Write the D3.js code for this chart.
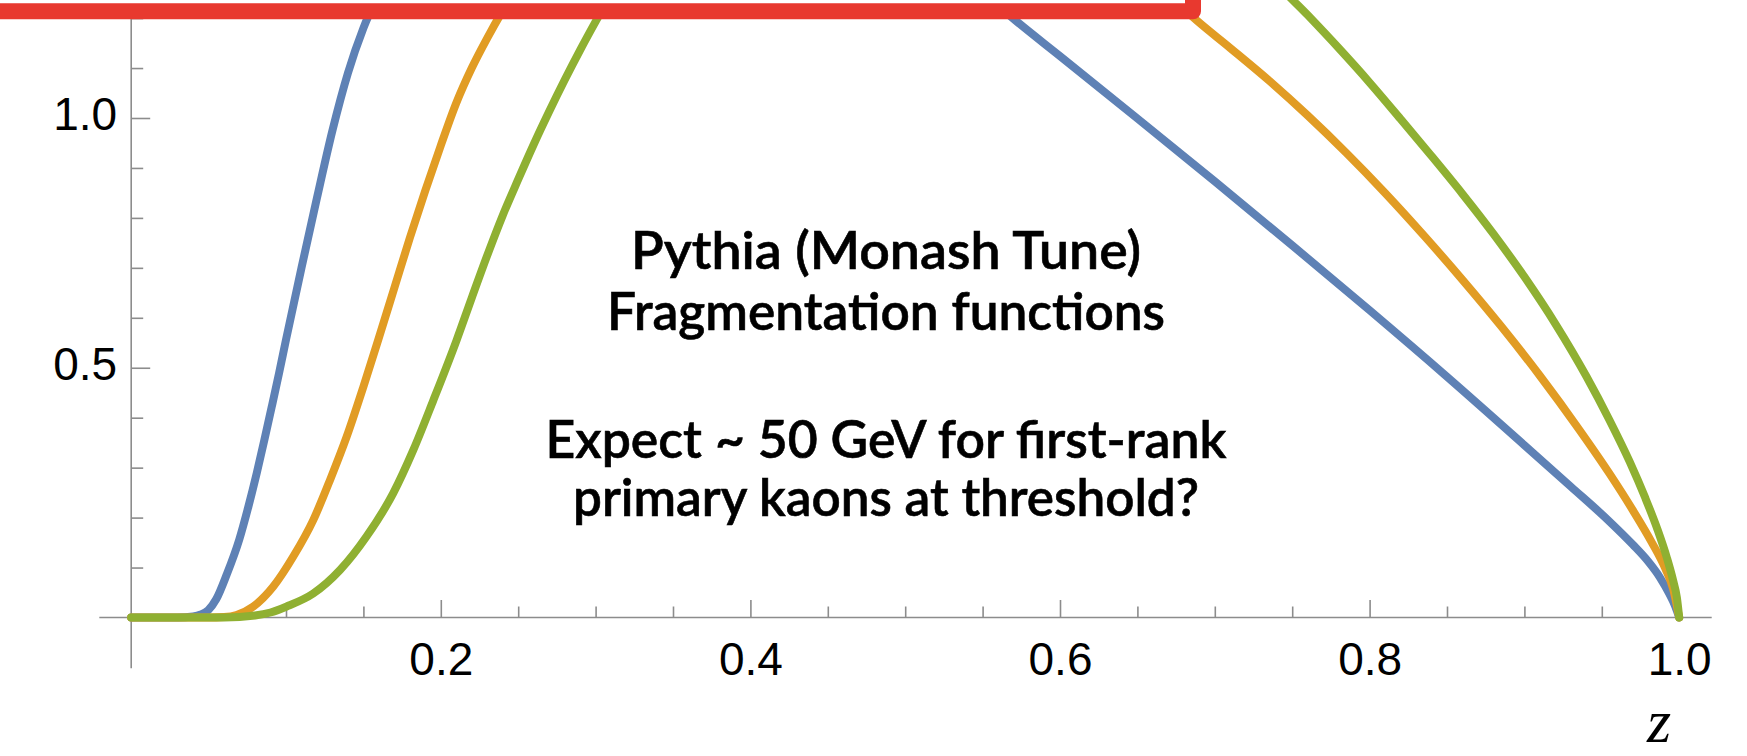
<!DOCTYPE html>
<html><head><meta charset="utf-8">
<script src="https://cdn.jsdelivr.net/npm/d3@7"></script>
<style>html,body{margin:0;padding:0;background:#fff;overflow:hidden}</style>
</head><body>
<svg id="chart" width="1747" height="756"></svg>
<script>
// ---- data (z, value); values above ~1.24 are hidden under the frame ----
const curveAz = [0, 0.03, 0.04, 0.045, 0.0498, 0.055, 0.0617, 0.0698, 0.0757, 0.0811, 0.086, 0.0908, 0.0955, 0.1, 0.11, 0.12, 0.13, 0.14, 0.15, 0.16, 0.17,
  0.2, 0.25, 0.3, 0.35, 0.4, 0.45, 0.5, 0.54,
  0.571, 0.60, 0.65, 0.70, 0.75, 0.80, 0.85, 0.90, 0.93, 0.954, 0.970, 0.98, 0.9876, 0.9935, 0.9975, 1.0];
const curveAv = [0, 0, 0.002, 0.006, 0.015, 0.037, 0.086, 0.156, 0.222, 0.289, 0.355, 0.422, 0.489, 0.556, 0.70, 0.84, 0.975, 1.09, 1.18, 1.25, 1.31,
  1.48, 1.70, 1.80, 1.78, 1.68, 1.55, 1.40, 1.28,
  1.196, 1.124, 0.999, 0.873, 0.745, 0.615, 0.482, 0.345, 0.262, 0.195, 0.146, 0.112, 0.08, 0.048, 0.022, 0];

const curveBz = [0, 0.05, 0.06, 0.068, 0.0789, 0.0918, 0.1047, 0.1176, 0.1284, 0.1392, 0.150, 0.1596, 0.17, 0.18, 0.19, 0.20, 0.21, 0.22, 0.23, 0.24, 0.25, 0.27,
  0.33, 0.4, 0.47, 0.54, 0.6, 0.65,
  0.688, 0.71, 0.735, 0.76, 0.785, 0.81, 0.835, 0.86, 0.885, 0.91, 0.935, 0.955, 0.97, 0.982, 0.991, 0.996, 1.0];
const curveBv = [0, 0, 0.001, 0.005, 0.022, 0.062, 0.122, 0.195, 0.275, 0.362, 0.462, 0.556, 0.66, 0.76, 0.855, 0.945, 1.03, 1.10, 1.16, 1.215, 1.265, 1.35,
  1.58, 1.74, 1.78, 1.68, 1.50, 1.31,
  1.196, 1.140, 1.075, 1.005, 0.930, 0.850, 0.765, 0.676, 0.583, 0.484, 0.378, 0.288, 0.215, 0.152, 0.098, 0.058, 0];

const curveCz = [0, 0.06, 0.08, 0.09, 0.1004, 0.1176, 0.1349, 0.152, 0.1693, 0.1822, 0.1952, 0.2103, 0.22, 0.23, 0.24, 0.25, 0.26, 0.27, 0.28, 0.29, 0.30, 0.32, 0.35,
  0.42, 0.5, 0.58, 0.65, 0.70,
  0.74, 0.76, 0.78, 0.80, 0.82, 0.84, 0.86, 0.88, 0.90, 0.92, 0.94, 0.955, 0.968, 0.978, 0.986, 0.992, 0.996, 0.9985, 1.0];
const curveCv = [0, 0, 0.004, 0.01, 0.022, 0.048, 0.095, 0.162, 0.249, 0.335, 0.435, 0.556, 0.64, 0.725, 0.805, 0.877, 0.947, 1.013, 1.076, 1.136, 1.193, 1.30, 1.44,
  1.68, 1.84, 1.84, 1.66, 1.45,
  1.27, 1.206, 1.140, 1.071, 0.998, 0.924, 0.848, 0.768, 0.682, 0.588, 0.483, 0.395, 0.312, 0.24, 0.176, 0.12, 0.075, 0.04, 0];

const seriesColors = ["#5e81b5", "#e19c24", "#8fb032"];

const xMajorTicks = [0.2, 0.4, 0.6, 0.8, 1.0];
const xTickLabels = ["0.2", "0.4", "0.6", "0.8", "1.0"];
const xMinorTicks = [0.05, 0.1, 0.15, 0.25, 0.3, 0.35, 0.45, 0.5, 0.55, 0.65, 0.7, 0.75, 0.85, 0.9, 0.95];
const yMajorTicks = [0.5, 1.0];
const yTickLabels = ["0.5", "1.0"];
const yMinorTicks = [0.1, 0.2, 0.3, 0.4, 0.6, 0.7, 0.8, 0.9, 1.1, 1.2];
const axisExtentX = [-0.0206, 1.021];
const axisExtentY = [-0.1017, 1.3];
const xAxisTitle = "z";
const noteLines = ["Pythia (Monash Tune)", "Fragmentation functions", "Expect ~ 50 GeV for first-rank", "primary kaons at threshold?"];

// ---- drawing ----
const svg = d3.select("#chart");
svg.append("rect").attr("width", 1747).attr("height", 756).attr("fill", "#fff");

const x = d3.scaleLinear().domain([0, 1]).range([131.2, 1679.2]);
const y = d3.scaleLinear().domain([0, 1]).range([617.5, 118]);

const axisColor = "#8c8c8c";
const g = svg.append("g");

// axis lines
g.append("line").attr("x1", x(axisExtentX[0])).attr("x2", x(axisExtentX[1]))
  .attr("y1", y(0)).attr("y2", y(0)).attr("stroke", axisColor).attr("stroke-width", 1.6);
g.append("line").attr("x1", x(0)).attr("x2", x(0))
  .attr("y1", y(axisExtentY[0])).attr("y2", y(axisExtentY[1])).attr("stroke", axisColor).attr("stroke-width", 1.6);

function styleAxis(sel) {
  sel.select(".domain").remove();
  sel.selectAll(".tick line").attr("stroke", axisColor).attr("stroke-width", 1.6);
  sel.selectAll(".tick text").attr("fill", "#000")
    .style("font-family", "'Liberation Sans', Arial, Helvetica, sans-serif").style("font-size", "46px");
}

// x axis
const xMinor = g.append("g").attr("transform", `translate(0,${y(0)})`)
  .call(d3.axisBottom(x).tickValues(xMinorTicks).tickSize(-11).tickFormat(""));
styleAxis(xMinor);
const xMajor = g.append("g").attr("transform", `translate(0,${y(0)})`)
  .call(d3.axisBottom(x).tickValues(xMajorTicks).tickSize(-17.5).tickPadding(25)
    .tickFormat((d, i) => xTickLabels[i]));
styleAxis(xMajor);

// y axis
const yMinor = g.append("g").attr("transform", `translate(${x(0)},0)`)
  .call(d3.axisLeft(y).tickValues(yMinorTicks).tickSize(-12).tickFormat(""));
styleAxis(yMinor);
const yMajor = g.append("g").attr("transform", `translate(${x(0)},0)`)
  .call(d3.axisLeft(y).tickValues(yMajorTicks).tickSize(-19).tickPadding(14)
    .tickFormat((d, i) => yTickLabels[i]));
styleAxis(yMajor);
yMajor.selectAll(".tick text").attr("dy", "0.26em");

// curves
const line = d3.line().x(d => x(d[0])).y(d => y(d[1])).curve(d3.curveMonotoneX);
const allSeries = [d3.zip(curveAz, curveAv), d3.zip(curveBz, curveBv), d3.zip(curveCz, curveCv)];
allSeries.forEach((pts, i) => {
  svg.append("path").datum(pts).attr("d", line)
    .attr("fill", "none").attr("stroke", seriesColors[i]).attr("stroke-width", 8)
    .attr("stroke-linecap", "round").attr("stroke-linejoin", "round");
});

// axis title
svg.append("text").attr("x", 1659).attr("y", 742).attr("text-anchor", "middle")
  .style("font-family", "'Liberation Serif', 'Times New Roman', serif").style("font-style", "italic")
  .style("font-size", "62px").attr("fill", "#000").text(xAxisTitle);

// annotation text
const noteY = [269, 330, 458, 516];
const noteW = [510, 558, 681, 626];
noteLines.forEach((t, i) => {
  svg.append("text").attr("x", 886).attr("y", noteY[i]).attr("text-anchor", "middle")
    .attr("textLength", noteW[i]).attr("lengthAdjust", "spacingAndGlyphs")
    .style("font-family", "Lato, 'Open Sans', sans-serif").style("font-weight", 600)
    .style("font-size", "52px").attr("fill", "#000")
    .attr("stroke", "#000").attr("stroke-width", 0.6).text(t);
});

// red highlight box (only its bottom-right part is in frame)
svg.append("rect").attr("x", -100).attr("y", -100).attr("width", 1293).attr("height", 111.3)
  .attr("fill", "#fff").attr("stroke", "#e8392f").attr("stroke-width", 16)
  .attr("stroke-linejoin", "round");
</script>
</body></html>
